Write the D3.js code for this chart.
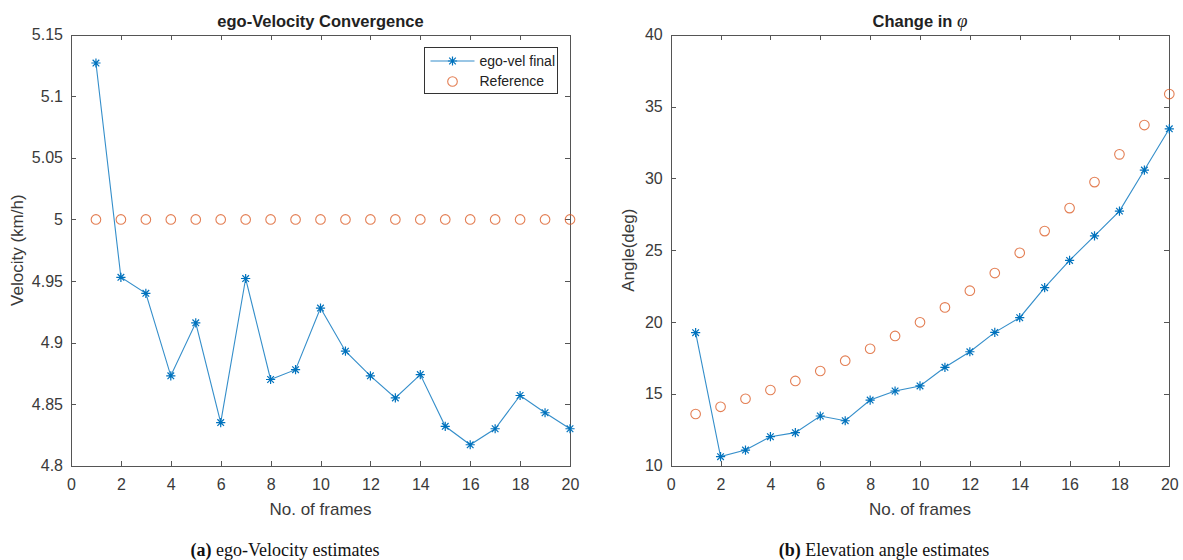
<!DOCTYPE html>
<html>
<head>
<meta charset="utf-8">
<script src="https://d3js.org/d3.v7.min.js"></script>
<style>
    body { margin: 0; background: #fff; }
    svg { font-family: "Liberation Sans", Arial, sans-serif; display: block; }
    .axis path, .axis line { stroke: #555; shape-rendering: crispEdges; }
    .axis text { fill: #3a3a3a; font-size: 16px; font-family: "Liberation Sans", Arial, sans-serif; }
    .title { font-size: 16.5px; font-weight: bold; fill: #222; }
    .label { font-size: 17px; fill: #3a3a3a; }
    .caption { font-family: "Liberation Serif", "Times New Roman", serif; font-size: 18px; fill: #111; }
</style>
</head>
<body>
<svg id="chart"></svg>
<script>
    // data
    var frames = [1, 2, 3, 4, 5, 6, 7, 8, 9, 10, 11, 12, 13, 14, 15, 16, 17, 18, 19, 20];
    var velEst = [5.127, 4.953, 4.940, 4.873, 4.916, 4.835, 4.952, 4.870, 4.878, 4.928,
                  4.893, 4.873, 4.855, 4.874, 4.832, 4.817, 4.830, 4.857, 4.843, 4.830];
    var velRef = [5, 5, 5, 5, 5, 5, 5, 5, 5, 5, 5, 5, 5, 5, 5, 5, 5, 5, 5, 5];
    var angEst = [19.26, 10.63, 11.09, 12.02, 12.30, 13.46, 13.13, 14.57, 15.20, 15.55,
                  16.85, 17.93, 19.28, 20.30, 22.39, 24.29, 26.00, 27.72, 30.58, 33.45];
    var angRef = [13.60, 14.10, 14.66, 15.27, 15.90, 16.59, 17.31, 18.14, 19.03, 19.98,
                  21.02, 22.18, 23.41, 24.82, 26.33, 27.93, 29.74, 31.67, 33.71, 35.87];

    var xTicks = [0, 2, 4, 6, 8, 10, 12, 14, 16, 18, 20];
    var velTicks = [4.8, 4.85, 4.9, 4.95, 5, 5.05, 5.1, 5.15];
    var angTicks = [10, 15, 20, 25, 30, 35, 40];
    var legendNames = ["ego-vel final", "Reference"];

    var blue = "#0072BD", orange = "#D95319";

    var width = 1183, height = 560;
    var plotTop = 34.7, plotBottom = 465.7;

    var svg = d3.select("#chart")
        .attr("width", width)
        .attr("height", height);

    svg.append("rect").attr("width", width).attr("height", height).attr("fill", "#fff");

    // MATLAB style '*' marker
    function star(s) {
        var d = s * 0.72;
        return "M0," + (-s) + "V" + s + "M" + (-s) + ",0H" + s +
            "M" + (-d) + "," + (-d) + "L" + d + "," + d +
            "M" + (-d) + "," + d + "L" + d + "," + (-d);
    }

    function panel(opt) {
        var x = d3.scaleLinear().domain([0, 20]).range([opt.left, opt.right]);
        var y = d3.scaleLinear().domain(opt.domain).range([plotBottom, plotTop]);
        var g = svg.append("g");

        g.append("g").attr("class", "axis")
            .attr("transform", "translate(0," + plotBottom + ")")
            .call(d3.axisBottom(x).tickValues(xTicks).tickSizeInner(-5).tickSizeOuter(0).tickPadding(13))
            .call(a => a.selectAll("text").attr("dy", "0.71em"));
        g.append("g").attr("class", "axis")
            .attr("transform", "translate(0," + plotTop + ")")
            .call(d3.axisTop(x).tickValues(xTicks).tickSizeInner(-5).tickSizeOuter(0).tickFormat(""));
        g.append("g").attr("class", "axis")
            .attr("transform", "translate(" + opt.left + ",0)")
            .call(d3.axisLeft(y).tickValues(opt.ticks).tickSizeInner(-5).tickSizeOuter(0).tickPadding(8)
                .tickFormat(d => String(+d.toFixed(2))));
        g.append("g").attr("class", "axis")
            .attr("transform", "translate(" + opt.right + ",0)")
            .call(d3.axisRight(y).tickValues(opt.ticks).tickSizeInner(-5).tickSizeOuter(0).tickFormat(""));

        // titles and labels
        var title = g.append("text").attr("class", "title")
            .attr("x", (opt.left + opt.right) / 2).attr("y", 26.5)
            .attr("text-anchor", "middle")
            .text(opt.title);
        if (opt.titleSym) {
            title.append("tspan")
                .style("font-family", "'Liberation Serif', 'Times New Roman', serif")
                .style("font-style", "italic").style("font-weight", "normal")
                .style("font-size", "19px")
                .text(opt.titleSym);
        }

        g.append("text").attr("class", "label")
            .attr("x", (opt.left + opt.right) / 2).attr("y", 515)
            .attr("text-anchor", "middle")
            .text("No. of frames");

        g.append("text").attr("class", "label")
            .attr("transform", "translate(" + opt.yLabelX + "," + (plotTop + plotBottom) / 2 + ") rotate(-90)")
            .attr("text-anchor", "middle")
            .text(opt.yLabel);

        g.append("text").attr("class", "caption")
            .attr("x", opt.capX).attr("y", 556)
            .attr("text-anchor", "middle")
            .call(t => t.append("tspan").attr("font-weight", "bold").text(opt.capBold))
            .call(t => t.append("tspan").text(" " + opt.capText));

        // series
        var est = frames.map((f, i) => [f, opt.est[i]]);
        var ref = frames.map((f, i) => [f, opt.ref[i]]);

        g.append("g").selectAll("circle")
            .data(ref)
            .enter().append("circle")
            .attr("cx", d => x(d[0]))
            .attr("cy", d => y(d[1]))
            .attr("r", 4.8)
            .attr("fill", "none")
            .attr("stroke", orange)
            .attr("stroke-opacity", 0.75)
            .attr("stroke-width", 1.1);

        g.append("path")
            .datum(est)
            .attr("fill", "none")
            .attr("stroke", blue)
            .attr("stroke-opacity", 0.8)
            .attr("stroke-width", 1.1)
            .attr("d", d3.line().x(d => x(d[0])).y(d => y(d[1])));

        g.append("g").selectAll("path")
            .data(est)
            .enter().append("path")
            .attr("transform", d => "translate(" + x(d[0]) + "," + y(d[1]) + ")")
            .attr("d", star(4.6))
            .attr("stroke", blue)
            .attr("stroke-width", 1.2)
            .attr("fill", "none");

        return {x: x, y: y, g: g};
    }

    var left = panel({
        left: 71, right: 570,
        domain: [4.8, 5.15], ticks: velTicks,
        est: velEst, ref: velRef,
        title: "ego-Velocity Convergence",
        yLabel: "Velocity (km/h)", yLabelX: 23,
        capX: 285, capBold: "(a)", capText: "ego-Velocity estimates"
    });

    panel({
        left: 670.7, right: 1169.3,
        domain: [10, 40], ticks: angTicks,
        est: angEst, ref: angRef,
        title: "Change in ", titleSym: "\u03c6",
        yLabel: "Angle(deg)", yLabelX: 634,
        capX: 884, capBold: "(b)", capText: "Elevation angle estimates"
    });

    // legend (left panel only)
    var lg = left.g.append("g").attr("transform", "translate(424.5,47.5)");
    lg.append("rect")
        .attr("width", 133).attr("height", 46)
        .attr("fill", "#fff").attr("stroke", "#333").attr("stroke-width", 1)
        .attr("shape-rendering", "crispEdges");
    var rows = lg.selectAll(".row")
        .data(legendNames)
        .enter().append("g")
        .attr("transform", (d, i) => "translate(0," + (13.5 + i * 20.5) + ")");
    rows.filter((d, i) => i === 0).append("line")
        .attr("x1", 6).attr("x2", 50)
        .attr("stroke", blue).attr("stroke-opacity", 0.8).attr("stroke-width", 1.1);
    rows.filter((d, i) => i === 0).append("path")
        .attr("transform", "translate(28,0)")
        .attr("d", star(4.6))
        .attr("stroke", blue).attr("stroke-width", 1.2).attr("fill", "none");
    rows.filter((d, i) => i === 1).append("circle")
        .attr("cx", 28).attr("r", 4.8)
        .attr("fill", "none").attr("stroke", orange).attr("stroke-opacity", 0.75).attr("stroke-width", 1.1);
    rows.append("text")
        .attr("x", 55).attr("dy", "0.35em")
        .style("font-size", "14px").attr("fill", "#222")
        .text(d => d);
</script>
</body>
</html>
